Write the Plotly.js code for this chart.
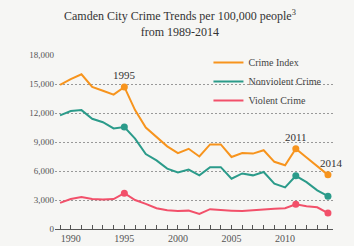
<!DOCTYPE html>
<html><head><meta charset="utf-8">
<script src="https://cdn.plot.ly/plotly-3.0.1.min.js"></script>
<style>html,body{margin:0;padding:0;background:#f6f6f4;}#chart{width:354px;height:246px;}</style>
</head><body><div id="chart"></div>
<script>
const years = [1989,1990,1991,1992,1993,1994,1995,1996,1997,1998,1999,2000,2001,2002,2003,2004,2005,2006,2007,2008,2009,2010,2011,2012,2013,2014];
const crimeIndex = [14900,15500,16000,14700,14300,13900,14700,12300,10500,9500,8550,7850,8300,7500,8750,8750,7450,7850,7800,8150,6950,6600,8300,7400,6500,5600];
const nonviolent = [11750,12200,12300,11400,11050,10400,10550,9350,7750,7100,6250,5850,6150,5550,6400,6400,5200,5750,5550,5900,4700,4300,5500,4850,4000,3400];
const violent = [2700,3100,3300,3100,3050,3100,3700,3000,2600,2150,1950,1850,1900,1550,2050,1950,1900,1850,1950,2050,2100,2150,2550,2350,2250,1650];
const seriesNames = ['Crime Index','Nonviolent Crime','Violent Crime'];
const markedYears = [1995,2011,2014];
const labelYears = [1995,2011,2014];
const colors = ['#f7941d','#2b9b8a','#f2506a'];
const yTicks = [0,3000,6000,9000,12000,15000,18000];
const xTicks = [1990,1995,2000,2005,2010];

const serif = 'Liberation Serif, DejaVu Serif, serif';
const all = [crimeIndex, nonviolent, violent];
const traces = [];
all.forEach((vals,i)=>{
  traces.push({x:years,y:vals,type:'scatter',mode:'lines',name:seriesNames[i],
    line:{color:colors[i],width:2},hoverinfo:'skip'});
});
all.forEach((vals,i)=>{
  traces.push({x:markedYears,y:markedYears.map(yr=>vals[years.indexOf(yr)]),type:'scatter',mode:'markers',
    showlegend:false,marker:{color:colors[i],size:7},hoverinfo:'skip'});
});
const annotations = labelYears.map(yr=>({x:yr,y:crimeIndex[years.indexOf(yr)],text:String(yr),showarrow:false,
  yshift:12,xshift: yr===2014?4:0, font:{family:serif,size:11,color:'#333'}}));
annotations.push({xref:'paper',yref:'paper',x:0.45,y:1.28,xanchor:'center',yanchor:'top',showarrow:false,
  text:'Camden City Crime Trends per 100,000 people<sup>3</sup><br>from 1989-2014',font:{family:serif,size:12,color:'#333'}});

const layout = {
  width:354,height:246,
  paper_bgcolor:'#f6f6f4',plot_bgcolor:'#f6f6f4',
  margin:{l:55,r:21,t:55,b:17},
  showlegend:true,
  legend:{x:0.552,y:1.04,xanchor:'left',yanchor:'top',bgcolor:'rgba(0,0,0,0)',
    font:{family:serif,size:10,color:'#444'},tracegroupgap:0},
  xaxis:{range:[1988.53,2014.47],tickvals:xTicks,ticktext:xTicks.map(String),showgrid:false,zeroline:false,
    showline:true,linecolor:'#555',linewidth:1,ticks:'inside',ticklen:4,tickcolor:'#555',
    minor:{dtick:1,tick0:1989,ticks:'inside',ticklen:4,tickcolor:'#555'},
    tickfont:{family:serif,size:10,color:'#555'},fixedrange:true},
  yaxis:{range:[0,18000],tickvals:yTicks,ticktext:yTicks.map(v=>v.toLocaleString('en-US')),
    showgrid:true,gridcolor:'#999',griddash:'2px,2px',gridwidth:1,zeroline:false,showline:false,ticks:'',
    tickfont:{family:serif,size:9,color:'#555'},fixedrange:true},
  annotations:annotations
};
Plotly.newPlot('chart',traces,layout,{staticPlot:true,displayModeBar:false});
</script></body></html>
